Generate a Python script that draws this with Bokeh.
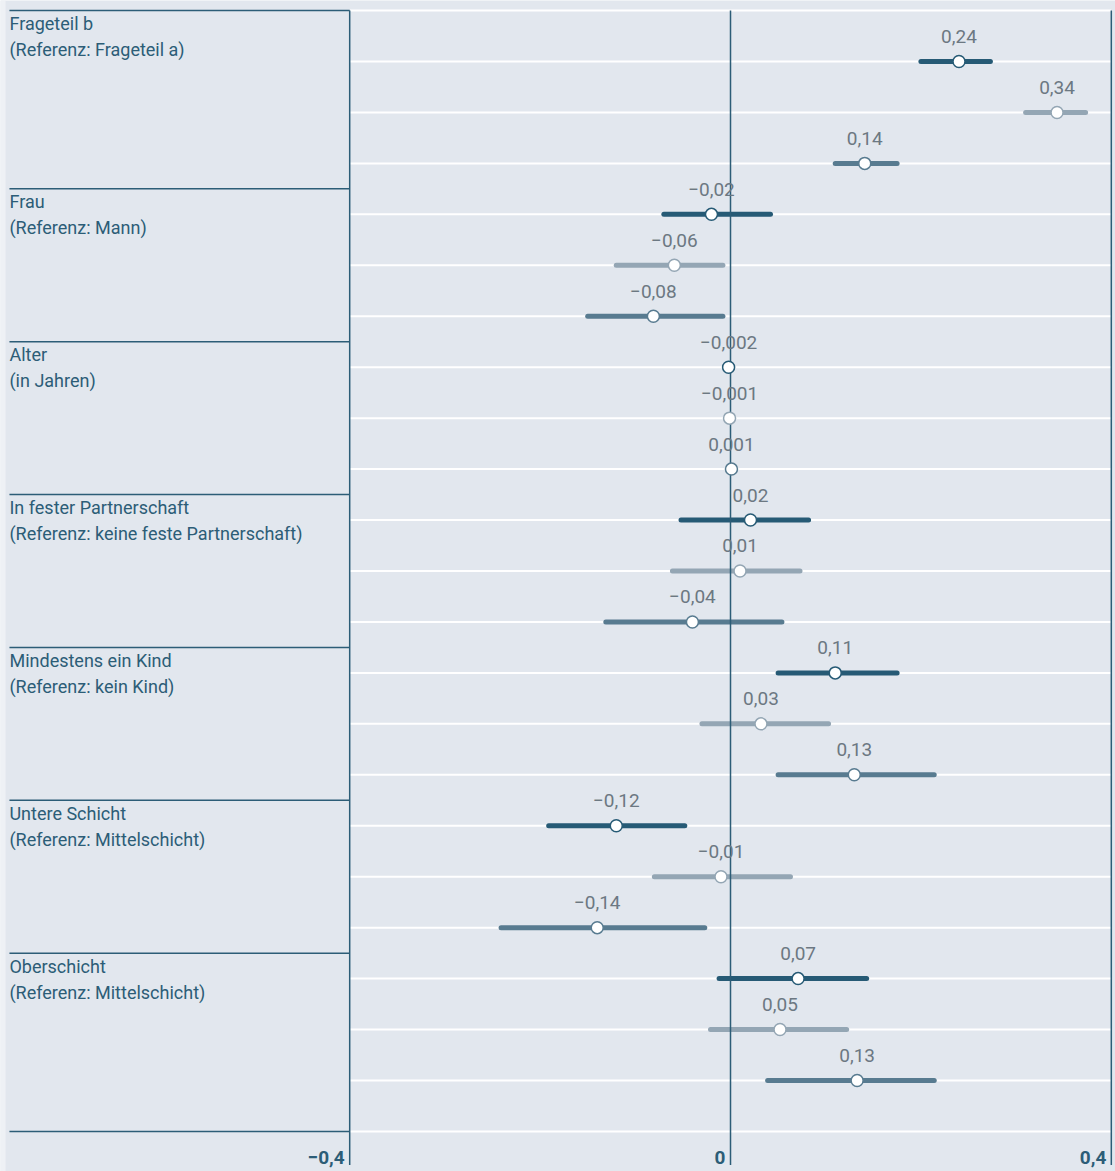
from bokeh.plotting import figure
from bokeh.models import Range1d, ColumnDataSource
from bokeh.core.properties import value
from bokeh.embed import file_html
from bokeh.resources import INLINE

# ---- data ----
group_titles = ["Frageteil b", "Frau", "Alter", "In fester Partnerschaft",
                "Mindestens ein Kind", "Untere Schicht", "Oberschicht"]
group_refs = ["(Referenz: Frageteil a)", "(Referenz: Mann)", "(in Jahren)",
              "(Referenz: keine feste Partnerschaft)", "(Referenz: kein Kind)",
              "(Referenz: Mittelschicht)", "(Referenz: Mittelschicht)"]

coef = [0.240, 0.343, 0.141,
        -0.020, -0.059, -0.081,
        -0.002, -0.001, 0.001,
        0.021, 0.010, -0.040,
        0.110, 0.032, 0.130,
        -0.120, -0.010, -0.140,
        0.071, 0.052, 0.133]
ci_low = [0.200, 0.310, 0.110,
          -0.070, -0.120, -0.150,
          -0.003, -0.002, 0.000,
          -0.052, -0.061, -0.131,
          0.050, -0.030, 0.050,
          -0.191, -0.080, -0.241,
          -0.012, -0.021, 0.039]
ci_high = [0.273, 0.373, 0.175,
           0.042, -0.008, -0.008,
           -0.001, 0.000, 0.002,
           0.082, 0.073, 0.054,
           0.175, 0.103, 0.214,
           -0.048, 0.063, -0.027,
           0.143, 0.122, 0.214]
coef_labels = ["0,24", "0,34", "0,14",
               "\u22120,02", "\u22120,06", "\u22120,08",
               "\u22120,002", "\u22120,001", "0,001",
               "0,02", "0,01", "\u22120,04",
               "0,11", "0,03", "0,13",
               "\u22120,12", "\u22120,01", "\u22120,14",
               "0,07", "0,05", "0,13"]
tick_values = [-0.4, 0.0, 0.4]
tick_labels = ["\u22120,4", "0", "0,4"]

# ---- styling ----
BG = "#e2e7ee"
DARK = "#2c5d77"
SERIES_COLORS = ["#265a75", "#94a6b4", "#587b90"]
LABEL_GRAY = "#6c7882"
FONT = "Roboto"

n = len(coef)
rows = list(range(n))
colors = [SERIES_COLORS[i % 3] for i in rows]

X0, X1 = -0.7668, 0.4044
p = figure(width=1115, height=1171, output_backend="svg", toolbar_location=None,
           x_range=Range1d(X0, X1), y_range=Range1d(21.786, -1.197),
           min_border=0, min_border_left=0, min_border_right=0,
           min_border_top=0, min_border_bottom=0)
p.background_fill_color = BG
p.border_fill_color = BG
p.outline_line_color = None
p.axis.visible = False
p.grid.visible = False

# light strip at the far left edge
p.quad(left=[X0], right=[-0.7615], bottom=[21.786], top=[-1.197],
       fill_color="#eef1f5", line_color=None)

# white row grid lines in plot area
grid_y = [-1] + rows + [n]
p.segment(x0=[-0.4] * len(grid_y), x1=[0.4] * len(grid_y), y0=grid_y, y1=grid_y,
          line_color="white", line_width=2)

# left panel separators
LEFT_X = -0.7574
sep_y = [-1, 2.5, 5.5, 8.5, 11.5, 14.5, 17.5, n]
p.segment(x0=[LEFT_X] * len(sep_y), x1=[-0.4] * len(sep_y), y0=sep_y, y1=sep_y,
          line_color=DARK, line_width=1.5)

# CI bars
src = ColumnDataSource(dict(y=rows, coef=coef, lo=ci_low, hi=ci_high,
                            color=colors, lab=coef_labels))
p.segment(x0="lo", x1="hi", y0="y", y1="y", source=src, line_color="color",
          line_width=5, line_cap="round")

# vertical lines
p.segment(x0=tick_values, x1=tick_values, y0=[-1] * 3, y1=[21.66] * 3,
          line_color=DARK, line_width=1.5)

p.scatter(x="coef", y="y", source=src, size=12, fill_color="white",
          line_color="color", line_width=1.5)
p.text(x="coef", y="y", text="lab", source=src, text_align="center",
       text_baseline="alphabetic", y_offset=-25, text_color=LABEL_GRAY,
       text_font=value(FONT), text_font_size="19px")

# group labels
group_y = sep_y[:-1]
p.text(x=[LEFT_X] * len(group_titles), y=group_y, text=group_titles,
       text_align="left", text_baseline="alphabetic", y_offset=13,
       text_color=DARK, text_font=value(FONT), text_font_size="18px")
p.text(x=[LEFT_X] * len(group_refs), y=group_y, text=group_refs,
       text_align="left", text_baseline="alphabetic", y_offset=39,
       text_color=DARK, text_font=value(FONT), text_font_size="18px")

# axis tick labels
p.text(x=tick_values, y=[n] * 3, text=tick_labels, text_align="right",
       text_baseline="alphabetic", x_offset=-5, y_offset=26,
       text_color=DARK, text_font=value(FONT), text_font_size="19px",
       text_font_style="bold")

open("out.html", "w").write(file_html(p, INLINE))
